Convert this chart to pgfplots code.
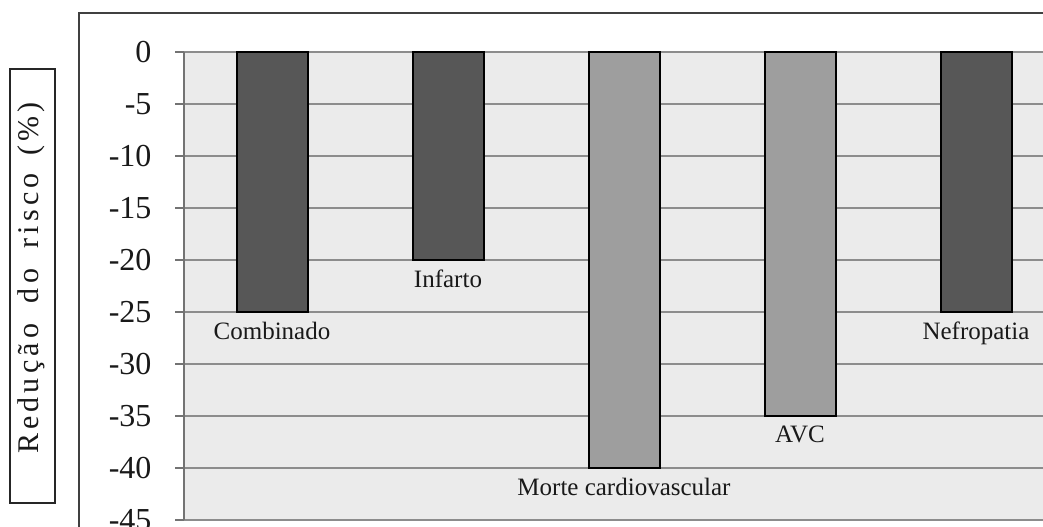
\documentclass[border=0pt]{standalone}
\usepackage{fontspec}
\setmainfont{Liberation Serif}
\newfontfamily\lsfont{Liberation Serif}[LetterSpace=14]
\usepackage{pgfplots}
\pgfplotsset{compat=1.18}
\begin{document}
\begin{tikzpicture}
\useasboundingbox (0bp,0bp) rectangle (1043bp,527bp);
\clip (0bp,0bp) rectangle (1043bp,527bp);
\fill[white] (0bp,0bp) rectangle (1043bp,527bp);
\draw[black!75, line width=1.5bp] (79bp,514bp) rectangle (1200bp,-50bp);
\node[draw=black!85, line width=1.8bp, rotate=90, minimum width=434bp, minimum height=45bp, inner sep=0pt] at (32.5bp,241bp) {};
\node[rotate=90, inner sep=0pt, text=black!90, anchor=center,
  font=\lsfont\fontsize{30bp}{33bp}\selectfont] at (31.5bp,249bp) {Redução\hspace{9bp} do\hspace{9bp} risco\hspace{6bp} (\%)};
\begin{axis}[
  at={(184bp,7bp)}, anchor=south west, scale only axis, width=880bp, height=468bp,
  xmin=-0.5, xmax=4.5, ymin=-45, ymax=0,
  axis x line=none, axis y line*=left,
  y axis line style={black!55, line width=1.3bp},
  ytick={-45,-40,...,0},
  tick align=outside, major tick length=9bp,
  ytick style={black!55, line width=1.3bp},
  yticklabel style={font=\fontsize{32bp}{34bp}\selectfont, text=black!90, xshift=-20bp},
  /pgf/number format/assume math mode=true,
  ymajorgrids, major grid style={black!45, line width=1.2bp},
  axis background/.style={fill=black!8},
  clip=false,
]
\addplot[ybar, bar width=71bp, bar shift=0pt, fill=black!66, draw=black, line width=2bp,
  point meta=explicit symbolic, nodes near coords,
  every node near coord/.append style={anchor=north, yshift=-6bp, text=black!90, font=\fontsize{25bp}{27bp}\selectfont}]
  coordinates {(0,-25)[Combinado] (1,-20)[Infarto] (4,-25)[Nefropatia]};
\addplot[ybar, bar width=71bp, bar shift=0pt, fill=black!38, draw=black, line width=2bp,
  point meta=explicit symbolic, nodes near coords,
  every node near coord/.append style={anchor=north, yshift=-6bp, text=black!90, font=\fontsize{25bp}{27bp}\selectfont}]
  coordinates {(2,-40)[Morte cardiovascular] (3,-35)[AVC]};
\end{axis}
\end{tikzpicture}
\end{document}
